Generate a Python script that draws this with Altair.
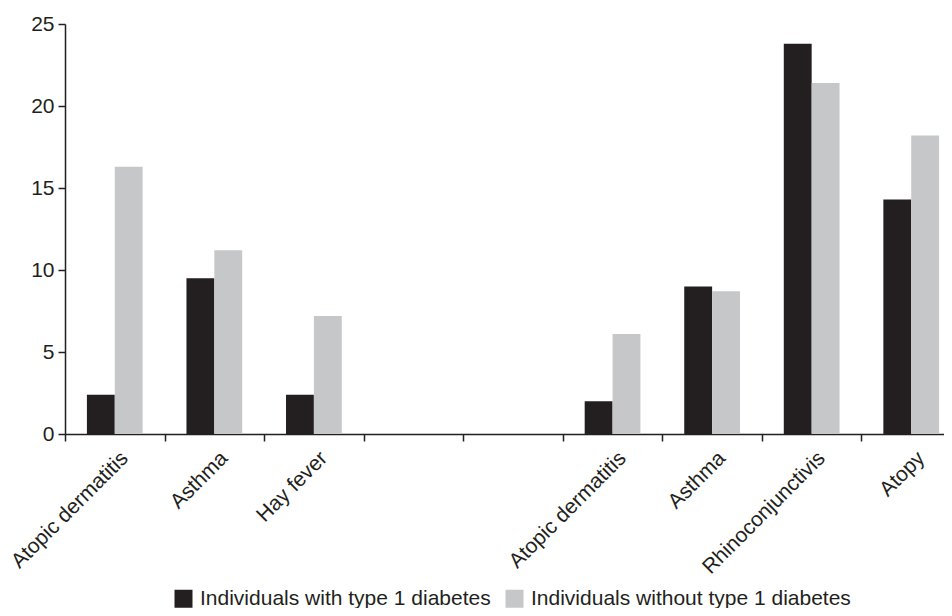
import altair as alt
import pandas as pd

# ---- data ----
slots = ["0", "1", "2", "3", "4", "5", "6", "7", "8"]
slot_labels = ["Atopic dermatitis", "Asthma", "Hay fever", "", "",
               "Atopic dermatitis", "Asthma", "Rhinoconjunctivis", "Atopy"]
bar_slots = ["0", "1", "2", "5", "6", "7", "8"]
with_t1d = [2.4, 9.5, 2.4, 2.0, 9.0, 23.8, 14.3]
without_t1d = [16.3, 11.2, 7.2, 6.1, 8.7, 21.4, 18.2]
series = ["Individuals with type 1 diabetes", "Individuals without type 1 diabetes"]
colors = ["#231f20", "#c6c7c9"]
y_ticks = [0, 5, 10, 15, 20, 25]

rows = []
for s, a, b in zip(bar_slots, with_t1d, without_t1d):
    rows.append({"slot": s, "series": series[0], "value": a})
    rows.append({"slot": s, "series": series[1], "value": b})
df = pd.DataFrame(rows)

label_expr = "[" + ",".join("'" + l + "'" for l in slot_labels) + "][toNumber(datum.value)]"

FONT = "Liberation Sans"
INK = "#231f20"
FS = 21

chart = alt.Chart(df).mark_bar().encode(
    x=alt.X(
        "slot:N",
        scale=alt.Scale(domain=slots, paddingInner=0, paddingOuter=0, range=[0, 896]),
        axis=alt.Axis(
            title=None,
            labelExpr=label_expr,
            labelAngle=-45,
            tickBand="extent",
            tickSize=7,
            labelPadding=6,
            labelOffset=2,
        ),
    ),
    xOffset=alt.XOffset(
        "series:N",
        scale=alt.Scale(domain=series, paddingInner=0, paddingOuter=0.786),
    ),
    y=alt.Y(
        "value:Q",
        scale=alt.Scale(domain=[0, 25], nice=False),
        axis=alt.Axis(title=None, values=y_ticks, grid=False, tickSize=7, labelPadding=4),
    ),
    color=alt.Color(
        "series:N",
        scale=alt.Scale(domain=series, range=colors),
        legend=alt.Legend(
            title=None,
            orient="none",
            direction="horizontal",
            legendX=108,
            legendY=564,
            symbolType="square",
            symbolSize=324,
            symbolStrokeWidth=0,
            labelOffset=6,
            labelLimit=0,
            columnPadding=13,
            labelFont=FONT,
            labelFontSize=FS,
            labelColor=INK,
        ),
    ),
).properties(
    width=879,
    height=410,
    autosize=alt.AutoSizeParams(type="none"),
    padding={"left": 57, "top": 16, "right": 0, "bottom": 174},
).configure_view(
    stroke=None
).configure_axis(
    domainColor=INK,
    tickColor=INK,
    domainWidth=1.5,
    tickWidth=1.5,
    labelColor=INK,
    labelFont=FONT,
    labelFontSize=FS,
)

chart.save("out.html", embed_options={"renderer": "svg", "actions": False})
